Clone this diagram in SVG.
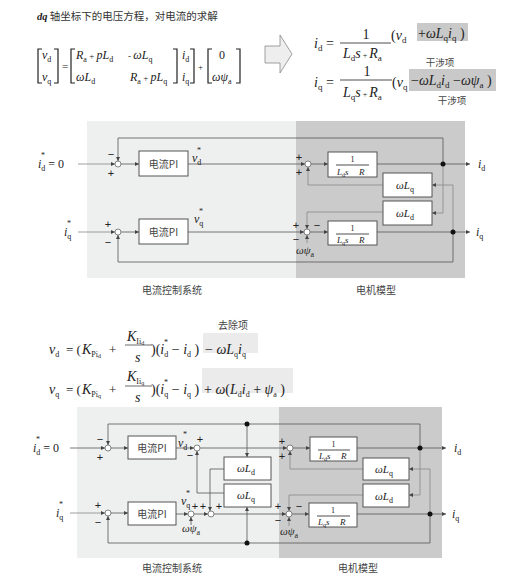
<svg xmlns="http://www.w3.org/2000/svg" width="509" height="587" viewBox="0 0 509 587">
<defs>
<style>
text{font-family:"Liberation Serif","DejaVu Serif",serif;fill:#222}
.m{font-style:italic;font-size:12px}
.mb{font-style:italic;font-size:14px}
.ms{font-style:italic;font-size:11px}
.r{font-style:normal}
.s{font-size:8px;font-style:normal}
.s9{font-size:9px;font-style:normal}
.ss{font-size:8px;font-style:normal}
.cn{font-family:"Noto Sans CJK SC","Noto Sans",sans-serif;font-size:10px;fill:#444}
.sg{font-family:"Liberation Sans",sans-serif;font-size:11px;text-anchor:middle;fill:#222}
.box{fill:#fff;stroke:#555;stroke-width:1}
.sum{fill:#fff;stroke:#666;stroke-width:0.8}
.ln{fill:none;stroke:#555;stroke-width:0.8}
.lg{fill:none;stroke:#888;stroke-width:0.8}
.br{fill:none;stroke:#222;stroke-width:1.2}
.dot{fill:#111}
.mid{text-anchor:middle}
</style>
<marker id="ah" viewBox="0 0 6 6" refX="6" refY="3" markerWidth="5" markerHeight="4" orient="auto" markerUnits="userSpaceOnUse"><path d="M0,0 L6,3 L0,6 z" fill="#444"/></marker>
</defs>
<rect width="509" height="587" fill="#fff"/>

<!-- Title -->
<g id="title">
<text x="37" y="20" style="font-size:10.5px"><tspan style="font-weight:bold;font-style:italic">dq</tspan><tspan class="cn" style="font-size:10.5px;fill:#333"> 轴坐标下的电压方程，对电流的求解</tspan></text>
</g>

<!-- Matrix equation -->
<g id="matrix-eq">
<path class="br" d="M42,49 H38 V83 H42 M54,49 H58 V83 H54"/>
<text class="m" x="42" y="59">v<tspan class="s" dy="3">d</tspan></text>
<text class="m" x="42" y="81">v<tspan class="s" dy="3">q</tspan></text>
<text class="m r" x="62" y="70" style="font-size:11px">=</text>
<path class="br" d="M75,49 H71 V83 H75 M173,49 H177 V83 H173"/>
<text class="m" x="76" y="59">R<tspan class="s" dy="3">a</tspan><tspan class="r" dy="-3" style="font-size:9px"> + </tspan>pL<tspan class="s" dy="3">d</tspan></text>
<text class="m" x="128" y="59"><tspan class="r" style="font-size:9px">- </tspan>ωL<tspan class="s" dy="3">q</tspan></text>
<text class="m" x="76" y="81">ωL<tspan class="s" dy="3">d</tspan></text>
<text class="m" x="130" y="81">R<tspan class="s" dy="3">a</tspan><tspan class="r" dy="-3" style="font-size:9px"> + </tspan>pL<tspan class="s" dy="3">q</tspan></text>
<text class="m" x="182" y="59">i<tspan class="s" dy="3">d</tspan></text>
<text class="m" x="182" y="81">i<tspan class="s" dy="3">q</tspan></text>
<path class="br" d="M190,49 H194 V83 H190"/>
<text class="r" x="198" y="70" style="font-size:9px">+</text>
<path class="br" d="M212,49 H208 V83 H212 M236,49 H240 V83 H236"/>
<text class="m r mid" x="222" y="59">0</text>
<text class="m" x="212" y="81">ωψ<tspan class="s" dy="3">a</tspan></text>
</g>

<!-- Big arrow -->
<g id="big-arrow">
<polygon points="265,46 280,46 280,35 292,54 280,73 280,63 265,63" fill="#eeeeee" stroke="#888" stroke-width="0.8"/>
</g>

<!-- Current solution equations -->
<g id="solution-eq">
<rect x="417" y="23" width="51" height="18" fill="#c9c9c9"/>
<text class="mb" x="314" y="48">i<tspan class="s9" dy="3">d</tspan><tspan class="r" dy="-3"> =</tspan></text>
<text class="mb r mid" x="366" y="39">1</text>
<path d="M340,43 H391" stroke="#222" stroke-width="0.8"/>
<text class="mb" x="343" y="58">L<tspan class="s9" dy="3">d</tspan><tspan dy="-3">s</tspan><tspan class="r" style="font-size:8px"> + </tspan>R<tspan class="s9" dy="3">a</tspan></text>
<text class="mb" x="391" y="40"><tspan class="r">(</tspan>v<tspan class="s9" dy="3">d</tspan></text>
<text class="mb" x="418" y="38"><tspan class="r">+</tspan>ωL<tspan class="s9" dy="3">q</tspan><tspan dy="-3">i</tspan><tspan class="s9" dy="3">q</tspan><tspan class="r" dy="-3"> )</tspan></text>
<text class="cn mid" x="440" y="66" style="font-size:9.5px">干涉项</text>

<rect x="409" y="69" width="87" height="22" fill="#c9c9c9"/>
<text class="mb" x="314" y="87">i<tspan class="s9" dy="3">q</tspan><tspan class="r" dy="-3"> =</tspan></text>
<text class="mb r mid" x="367" y="76">1</text>
<path d="M340,80 H392" stroke="#222" stroke-width="0.8"/>
<text class="mb" x="343" y="97">L<tspan class="s9" dy="3">q</tspan><tspan dy="-3">s</tspan><tspan class="r" style="font-size:8px"> + </tspan>R<tspan class="s9" dy="3">a</tspan></text>
<text class="mb" x="392" y="87"><tspan class="r">(</tspan>v<tspan class="s9" dy="3">q</tspan></text>
<text class="mb" x="411" y="85"><tspan class="r">−</tspan>ωL<tspan class="s9" dy="3">d</tspan><tspan dy="-3">i</tspan><tspan class="s9" dy="3">d</tspan><tspan class="r" dy="-3"> −</tspan>ωψ<tspan class="s9" dy="3">a</tspan><tspan class="r" dy="-3"> )</tspan></text>
<text class="cn mid" x="452" y="104" style="font-size:9.5px">干涉项</text>
</g>

<!-- ===== Diagram A ===== -->
<g id="A-background">
<rect x="87" y="121" width="209" height="157" fill="#eeefef"/>
<rect x="296" y="121" width="169" height="157" fill="#cbcbcb"/>
<text class="cn mid" x="172" y="294">电流控制系统</text>
<text class="cn mid" x="376" y="294">电机模型</text>
</g>

<g id="A-connectors">
<path class="lg" d="M78,164 H115" marker-end="url(#ah)"/>
<path class="ln" d="M443,164 V138 H118 V161" marker-end="url(#ah)"/>
<path class="ln" d="M121,164 H139" marker-end="url(#ah)"/>
<path class="ln" d="M188,164 H305" marker-end="url(#ah)"/>
<path class="ln" d="M311,164 H328" marker-end="url(#ah)"/>
<path class="ln" d="M377,164 H470" marker-end="url(#ah)"/>
<path class="lg" d="M443,164 V213 H432" marker-end="url(#ah)"/>
<path class="lg" d="M383,185 H308 V167" marker-end="url(#ah)"/>
<path class="lg" d="M453,232 V185 H432" marker-end="url(#ah)"/>
<path class="lg" d="M383,212 H307 V229" marker-end="url(#ah)"/>
<path class="lg" d="M78,232 H115" marker-end="url(#ah)"/>
<path class="ln" d="M121,232 H139" marker-end="url(#ah)"/>
<path class="ln" d="M188,232 H304" marker-end="url(#ah)"/>
<path class="ln" d="M310,232 H328" marker-end="url(#ah)"/>
<path class="ln" d="M377,232 H470" marker-end="url(#ah)"/>
<path class="ln" d="M453,232 V262 H118 V235" marker-end="url(#ah)"/>
<path class="lg" d="M307,243 V235" marker-end="url(#ah)"/>
</g>

<g id="A-id-ref"><text class="m" x="38" y="168">i<tspan class="s" dy="3">d</tspan><tspan class="r" dy="-3"> = 0</tspan></text><text class="s" x="41" y="158">*</text></g>
<g id="A-iq-ref"><text class="m" x="64" y="236">i<tspan class="s" dy="3">q</tspan></text><text class="s" x="67" y="226">*</text></g>
<g id="A-sum1"><circle class="sum" cx="118" cy="164" r="3"/><text class="sg" x="111" y="158">−</text><text class="sg" x="111" y="177">+</text></g>
<g id="A-pi1"><rect class="box" x="139" y="151" width="49" height="25"/><text class="cn mid" x="163.5" y="167.5">电流PI</text></g>
<g id="A-vd"><text class="m" x="192" y="162">v<tspan class="s" dy="3">d</tspan></text><text class="s" x="197" y="153">*</text></g>
<g id="A-sum2"><circle class="sum" cx="308" cy="164" r="3"/><text class="sg" x="299" y="161">+</text><text class="sg" x="299" y="176">+</text></g>
<g id="A-gd"><rect class="box" x="328" y="152" width="49" height="25"/><text class="r mid" x="352.5" y="162" style="font-size:8px">1</text><path d="M336,165 H369" stroke="#222" stroke-width="0.8"/><text class="ms" x="337" y="175" style="font-size:9px">L<tspan class="s" style="font-size:6px" dy="2">d</tspan><tspan dy="-2">s</tspan><tspan x="359">R</tspan></text></g>
<g id="A-wlq"><rect class="box" x="383" y="173" width="49" height="24"/><text class="ms" x="396" y="189">ωL<tspan class="s" dy="3">q</tspan></text></g>
<g id="A-wld"><rect class="box" x="383" y="201" width="49" height="24"/><text class="ms" x="396" y="217">ωL<tspan class="s" dy="3">d</tspan></text></g>
<g id="A-dot-d"><circle class="dot" cx="443" cy="164" r="2.5"/><text class="m" x="478" y="168">i<tspan class="s" dy="3">d</tspan></text></g>
<g id="A-sum3"><circle class="sum" cx="118" cy="232" r="3"/><text class="sg" x="108" y="228">+</text><text class="sg" x="108" y="246">−</text></g>
<g id="A-pi2"><rect class="box" x="139" y="219" width="49" height="25"/><text class="cn mid" x="163.5" y="235.5">电流PI</text></g>
<g id="A-vq"><text class="m" x="194" y="223">v<tspan class="s" dy="3">q</tspan></text><text class="s" x="199" y="214">*</text></g>
<g id="A-sum4"><circle class="sum" cx="307" cy="232" r="3"/><text class="sg" x="296" y="229">+</text><text class="sg" x="296" y="243">−</text><text class="sg" x="317" y="229">−</text><text class="ms" x="296" y="254">ωψ<tspan class="s" dy="3">a</tspan></text></g>
<g id="A-gq"><rect class="box" x="328" y="221" width="49" height="24"/><text class="r mid" x="352.5" y="231" style="font-size:8px">1</text><path d="M336,234 H369" stroke="#222" stroke-width="0.8"/><text class="ms" x="337" y="243" style="font-size:9px">L<tspan class="s" style="font-size:6px" dy="2">q</tspan><tspan dy="-2">s</tspan><tspan x="359">R</tspan></text></g>
<g id="A-dot-q"><circle class="dot" cx="453" cy="232" r="2.5"/><text class="m" x="476" y="236">i<tspan class="s" dy="3">q</tspan></text></g>

<!-- Decoupling equations -->
<g id="decouple-eq">
<rect x="203" y="333" width="55" height="20" fill="#ebebeb"/>
<rect x="202" y="368" width="91" height="25" fill="#ebebeb"/>
<text class="cn mid" x="233" y="329" style="font-size:10px">去除项</text>
<text class="m" x="49" y="354" style="font-size:14px">v<tspan class="s" dy="3">d</tspan></text>
<text class="m r" x="66" y="354" style="font-size:13px">= (</text>
<text class="m" x="82" y="354" style="font-size:14px">K<tspan class="ss" dy="3">Pi</tspan><tspan class="ss" style="font-size:6px" dy="1">d</tspan></text>
<text class="m r" x="109" y="354" style="font-size:13px">+</text>
<text class="m" x="127" y="341" style="font-size:14px">K<tspan class="ss" dy="3">Ii</tspan><tspan class="ss" style="font-size:6px" dy="1">d</tspan></text>
<path d="M125,345 H152" stroke="#444" stroke-width="0.8"/>
<text class="m" x="135" y="362" style="font-size:14px">s</text>
<text class="m" x="151" y="354" style="font-size:14px"><tspan class="r">)(</tspan>i<tspan class="s" dy="3">d</tspan><tspan class="r" dy="-3"> − </tspan>i<tspan class="s" dy="3">d</tspan><tspan class="r" dy="-3"> )</tspan></text>
<text class="s" x="164" y="345">*</text>
<text class="m" x="205" y="354" style="font-size:14px"><tspan class="r">−</tspan> ωL<tspan class="s" dy="3">q</tspan><tspan dy="-3">i</tspan><tspan class="s" dy="3">q</tspan></text>

<text class="m" x="49" y="394" style="font-size:14px">v<tspan class="s" dy="3">q</tspan></text>
<text class="m r" x="66" y="394" style="font-size:13px">= (</text>
<text class="m" x="82" y="394" style="font-size:14px">K<tspan class="ss" dy="3">Pi</tspan><tspan class="ss" style="font-size:6px" dy="1">q</tspan></text>
<text class="m r" x="109" y="394" style="font-size:13px">+</text>
<text class="m" x="127" y="381" style="font-size:14px">K<tspan class="ss" dy="3">Ii</tspan><tspan class="ss" style="font-size:6px" dy="1">q</tspan></text>
<path d="M125,386 H152" stroke="#444" stroke-width="0.8"/>
<text class="m" x="135" y="402" style="font-size:14px">s</text>
<text class="m" x="151" y="394" style="font-size:14px"><tspan class="r">)(</tspan>i<tspan class="s" dy="3">q</tspan><tspan class="r" dy="-3"> − </tspan>i<tspan class="s" dy="3">q</tspan><tspan class="r" dy="-3"> )</tspan></text>
<text class="s" x="164" y="385">*</text>
<text class="m" x="204" y="394" style="font-size:14px"><tspan class="r">+</tspan> ω<tspan class="r">(</tspan>L<tspan class="s" dy="3">d</tspan><tspan dy="-3">i</tspan><tspan class="s" dy="3">d</tspan><tspan class="r" dy="-3">  + </tspan>ψ<tspan class="s" dy="3">a</tspan><tspan class="r" dy="-3"> )</tspan></text>
</g>

<!-- ===== Diagram B ===== -->
<g id="B-background">
<rect x="77" y="407" width="202" height="151" fill="#eeefef"/>
<rect x="279" y="407" width="163" height="151" fill="#cbcbcb"/>
<text class="cn mid" x="172" y="572">电流控制系统</text>
<text class="cn mid" x="358" y="572">电机模型</text>
</g>

<g id="B-connectors">
<path class="ln" d="M70,448 H105" marker-end="url(#ah)"/>
<path class="ln" d="M420,448 V424 H108 V445" marker-end="url(#ah)"/>
<path class="ln" d="M247,424 V457" marker-end="url(#ah)"/>
<path class="ln" d="M111,448 H128" marker-end="url(#ah)"/>
<path class="ln" d="M176,448 H194" marker-end="url(#ah)"/>
<path class="ln" d="M200,448 H287" marker-end="url(#ah)"/>
<path class="ln" d="M293,448 H310" marker-end="url(#ah)"/>
<path class="ln" d="M357,448 H446" marker-end="url(#ah)"/>
<path class="ln" d="M224,469 H210 V511" marker-end="url(#ah)"/>
<path class="ln" d="M224,493 H197 V451" marker-end="url(#ah)"/>
<path class="ln" d="M247,543 V507" marker-end="url(#ah)"/>
<path class="ln" d="M430,514 V543 H108 V516" marker-end="url(#ah)"/>
<path class="lg" d="M70,513 H105" marker-end="url(#ah)"/>
<path class="ln" d="M111,513 H128" marker-end="url(#ah)"/>
<path class="ln" d="M176,514 H188" marker-end="url(#ah)"/>
<path class="ln" d="M191,525 V517" marker-end="url(#ah)"/>
<path class="ln" d="M194,514 H208" marker-end="url(#ah)"/>
<path class="ln" d="M214,514 H286" marker-end="url(#ah)"/>
<path class="ln" d="M292,514 H309" marker-end="url(#ah)"/>
<path class="ln" d="M357,514 H446" marker-end="url(#ah)"/>
<path class="lg" d="M363,469 H290 V451" marker-end="url(#ah)"/>
<path class="lg" d="M430,514 V469 H409" marker-end="url(#ah)"/>
<path class="lg" d="M420,448 V495 H409" marker-end="url(#ah)"/>
<path class="lg" d="M363,495 H289 V511" marker-end="url(#ah)"/>
<path class="lg" d="M289,526 V517" marker-end="url(#ah)"/>
</g>

<g id="B-id-ref"><text class="m" x="33" y="452">i<tspan class="s" dy="3">d</tspan><tspan class="r" dy="-3"> = 0</tspan></text><text class="s" x="36" y="442">*</text></g>
<g id="B-iq-ref"><text class="m" x="56" y="517">i<tspan class="s" dy="3">q</tspan></text><text class="s" x="59" y="507">*</text></g>
<g id="B-sum1"><circle class="sum" cx="108" cy="448" r="3"/><text class="sg" x="100" y="443">−</text><text class="sg" x="100" y="461">+</text></g>
<g id="B-pi1"><rect class="box" x="128" y="436" width="48" height="23"/><text class="cn mid" x="152" y="451.5">电流PI</text></g>
<g id="B-vd"><text class="m" x="178" y="447">v<tspan class="s" dy="3">d</tspan></text><text class="s" x="183" y="437">*</text></g>
<g id="B-sum2"><circle class="sum" cx="197" cy="448" r="3"/><text class="sg" x="200" y="443">+</text><text class="sg" x="190" y="459">−</text></g>
<g id="B-wld-c"><rect class="box" x="224" y="457" width="47" height="23"/><text class="ms" x="237" y="472">ωL<tspan class="s" dy="3">d</tspan></text></g>
<g id="B-wlq-c"><rect class="box" x="224" y="484" width="47" height="23"/><text class="ms" x="237" y="499">ωL<tspan class="s" dy="3">q</tspan></text></g>
<g id="B-dot-top"><circle class="dot" cx="247" cy="424" r="2.5"/></g>
<g id="B-dot-bot"><circle class="dot" cx="247" cy="543" r="2.5"/></g>
<g id="B-sum3"><circle class="sum" cx="108" cy="513" r="3"/><text class="sg" x="98" y="509">+</text><text class="sg" x="98" y="526">−</text></g>
<g id="B-pi2"><rect class="box" x="128" y="502" width="48" height="23"/><text class="cn mid" x="152" y="517.5">电流PI</text></g>
<g id="B-vq"><text class="m" x="181" y="505">v<tspan class="s" dy="3">q</tspan></text><text class="s" x="186" y="496">*</text></g>
<g id="B-sum4"><circle class="sum" cx="191" cy="514" r="3"/><text class="sg" x="195" y="510">+</text><text class="ms" x="182" y="532">ωψ<tspan class="s" dy="3">a</tspan></text></g>
<g id="B-sum5"><circle class="sum" cx="211" cy="514" r="3"/><text class="sg" x="203" y="510">+</text><text class="sg" x="219" y="510">+</text></g>
<g id="B-msum-d"><circle class="sum" cx="290" cy="448" r="3"/><text class="sg" x="282" y="445">+</text><text class="sg" x="282" y="460">+</text></g>
<g id="B-gd"><rect class="box" x="310" y="437" width="47" height="24"/><text class="r mid" x="333.5" y="447" style="font-size:8px">1</text><path d="M318,450 H350" stroke="#222" stroke-width="0.8"/><text class="ms" x="319" y="459" style="font-size:9px">L<tspan class="s" style="font-size:6px" dy="2">d</tspan><tspan dy="-2">s</tspan><tspan x="341">R</tspan></text></g>
<g id="B-wlq-m"><rect class="box" x="363" y="458" width="46" height="22"/><text class="ms" x="375" y="473">ωL<tspan class="s" dy="3">q</tspan></text></g>
<g id="B-wld-m"><rect class="box" x="363" y="484" width="46" height="23"/><text class="ms" x="375" y="500">ωL<tspan class="s" dy="3">d</tspan></text></g>
<g id="B-dot-d"><circle class="dot" cx="420" cy="448" r="2.5"/><text class="m" x="454" y="452">i<tspan class="s" dy="3">d</tspan></text></g>
<g id="B-msum-q"><circle class="sum" cx="289" cy="514" r="3"/><text class="sg" x="278" y="510">+</text><text class="sg" x="278" y="524">−</text><text class="sg" x="299" y="510">−</text><text class="ms" x="280" y="535">ωψ<tspan class="s" dy="3">a</tspan></text></g>
<g id="B-gq"><rect class="box" x="309" y="503" width="48" height="24"/><text class="r mid" x="333" y="513" style="font-size:8px">1</text><path d="M317,516 H350" stroke="#222" stroke-width="0.8"/><text class="ms" x="318" y="525" style="font-size:9px">L<tspan class="s" style="font-size:6px" dy="2">q</tspan><tspan dy="-2">s</tspan><tspan x="340">R</tspan></text></g>
<g id="B-dot-q"><circle class="dot" cx="430" cy="514" r="2.5"/><text class="m" x="452" y="518">i<tspan class="s" dy="3">q</tspan></text></g>
</svg>
